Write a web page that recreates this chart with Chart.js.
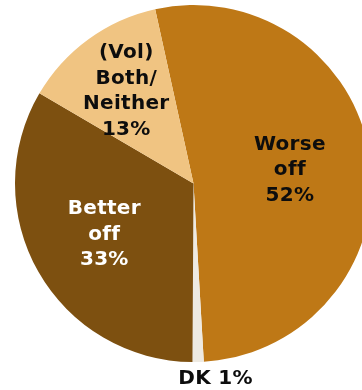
<!DOCTYPE html>
<html>
<head>
<meta charset="utf-8">
<script src="https://cdn.jsdelivr.net/npm/chart.js@4/dist/chart.umd.min.js"></script>
<style>
  html, body { margin: 0; padding: 0; background: #fff; overflow: hidden; }
</style>
</head>
<body>
<canvas id="chartPie" width="400" height="390"></canvas>
<script>
// answers, clockwise from the top
const categories = [["Worse", "off"], ["DK"], ["Better", "off"], ["(Vol)", "Both/", "Neither"]];
const shares = [52, 1, 33, 13];

const sliceColors = ["#BE7816", "#EEEAE2", "#7D5010", "#F0C482"];
const textColors = ["#0d0d0d", "#0d0d0d", "#fff", "#0d0d0d"];
// where each label sits: fraction of the radius along the slice middle, plus a nudge
const labelPlace = [
  { frac: 0.545, dx: 0, dy: 0 },
  { frac: 1.1, dx: 17, dy: -1, inline: true },
  { frac: 0.575, dx: 0, dy: 0 },
  { frac: 0.64, dx: 0, dy: 0 },
];

const sliceLabels = {
  id: "sliceLabels",
  afterDatasetsDraw(chart) {
    const ctx = chart.ctx;
    const arcs = chart.getDatasetMeta(0).data;
    ctx.save();
    ctx.font = "bold 20px 'DejaVu Sans', Verdana, sans-serif";
    ctx.letterSpacing = "0.3px";
    ctx.textAlign = "center";
    ctx.textBaseline = "middle";
    arcs.forEach((arc, i) => {
      const p = arc.getProps(["x", "y", "startAngle", "endAngle", "outerRadius"], true);
      const mid = (p.startAngle + p.endAngle) / 2;
      const place = labelPlace[i];
      const cx = p.x + Math.cos(mid) * p.outerRadius * place.frac + place.dx;
      const cy = p.y + Math.sin(mid) * p.outerRadius * place.frac + place.dy;
      const lines = place.inline
        ? [categories[i].join(" ") + " " + shares[i] + "%"]
        : categories[i].concat([shares[i] + "%"]);
      const lh = 25.5;
      ctx.fillStyle = textColors[i];
      lines.forEach((t, k) => {
        ctx.fillText(t, cx, cy + (k - (lines.length - 1) / 2) * lh);
      });
    });
    ctx.restore();
  },
};

new Chart(document.getElementById("chartPie"), {
  type: "pie",
  data: {
    labels: categories.map((c) => c.join(" ")),
    datasets: [
      {
        data: shares,
        backgroundColor: sliceColors,
        borderWidth: 0,
      },
    ],
  },
  options: {
    responsive: false,
    animation: false,
    rotation: -12.4,
    layout: {
      padding: { left: 15, top: 5, right: 28, bottom: 28 },
    },
    plugins: {
      legend: { display: false },
      tooltip: { enabled: false },
    },
  },
  plugins: [sliceLabels],
});
</script>
</body>
</html>
